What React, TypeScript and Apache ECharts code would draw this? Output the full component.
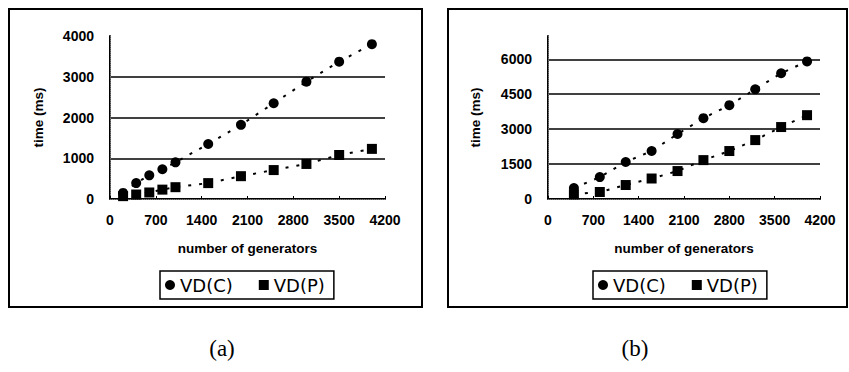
import React, { useEffect, useRef } from "react";
import * as echarts from "echarts";

// ---- data ----
const xTicksLabel = "number of generators";
const yName = "time (ms)";
const seriesNames = ["VD(C)", "VD(P)"];

const leftX = [200, 400, 600, 800, 1000, 1500, 2000, 2500, 3000, 3500, 4000];
const leftC = [150, 390, 580, 730, 900, 1350, 1820, 2350, 2880, 3370, 3800];
const leftP = [70, 110, 160, 230, 290, 390, 560, 710, 860, 1080, 1230];

const rightX = [400, 800, 1200, 1600, 2000, 2400, 2800, 3200, 3600, 4000];
const rightC = [470, 940, 1590, 2060, 2790, 3470, 4030, 4710, 5400, 5910];
const rightP = [200, 300, 600, 880, 1200, 1670, 2060, 2530, 3090, 3600];

const panelLabels = ["(a)", "(b)"];

const FONT = "Liberation Sans";

function zip(xs: number[], ys: number[]) {
  return xs.map((x, i) => [x, ys[i]]);
}

export default function App() {
  const ref = useRef<HTMLDivElement>(null);
  useEffect(() => {
    if (!ref.current) return;
    const chart = echarts.init(ref.current, undefined, { renderer: "svg" });

    const tickLabel = {
      color: "#000",
      fontFamily: FONT,
      fontWeight: "bold" as const,
      fontSize: 14,
      formatter: (v: number) => String(v),
    };
    const nameStyle = {
      color: "#000",
      fontFamily: FONT,
      fontWeight: "bold" as const,
      fontSize: 13.5,
    };

    const bottomX = (grid: number) => ({
      type: "value",
      gridIndex: grid,
      position: "bottom",
      min: 0,
      max: 4200,
      interval: 700,
      axisLine: { show: true, lineStyle: { color: "#000", width: 2 } },
      axisTick: { show: true, inside: true, length: 3, lineStyle: { color: "#000", width: 1 } },
      axisLabel: { ...tickLabel, margin: 14 },
      splitLine: { show: false },
      name: xTicksLabel,
      nameLocation: "middle",
      nameGap: 42,
      nameTextStyle: nameStyle,
    });
    const topX = (grid: number) => ({
      type: "value",
      gridIndex: grid,
      position: "top",
      min: 0,
      max: 4200,
      interval: 700,
      axisLine: { show: true, lineStyle: { color: "#777", width: 1, type: "dotted" } },
      axisTick: { show: false },
      axisLabel: { show: false },
      splitLine: { show: false },
    });
    const leftY = (grid: number, max: number, interval: number, gap: number) => ({
      type: "value",
      gridIndex: grid,
      position: "left",
      min: 0,
      max,
      interval,
      axisLine: { show: true, lineStyle: { color: "#000", width: 2 } },
      axisTick: { show: false },
      axisLabel: { ...tickLabel, margin: 16, showMaxLabel: max % interval === 0 },
      splitLine: { show: true, showMaxLine: false, lineStyle: { color: "#000", width: 1.5 } },
      name: yName,
      nameLocation: "middle",
      nameGap: gap,
      nameRotate: 90,
      nameTextStyle: nameStyle,
    });
    const rightY = (grid: number, max: number, interval: number) => ({
      type: "value",
      gridIndex: grid,
      position: "right",
      min: 0,
      max,
      interval,
      axisLine: { show: true, lineStyle: { color: "#777", width: 1, type: "dotted" } },
      axisTick: { show: false },
      axisLabel: { show: false },
      splitLine: { show: false },
    });

    const mkSeries = (
      name: string,
      data: number[][],
      symbol: string,
      xi: number,
      yi: number
    ) => ({
      type: "line",
      name,
      data,
      xAxisIndex: xi,
      yAxisIndex: yi,
      symbol,
      symbolSize: 10,
      itemStyle: { color: "#000" },
      lineStyle: { color: "#000", width: 2, type: [3, 8] },
      z: 3,
    });

    const legendBase = {
      orient: "horizontal",
      top: 271,
      borderColor: "#000",
      borderWidth: 1.5,
      borderRadius: 0,
      padding: [5, 9, 5, 5],
      itemGap: 26,
      itemWidth: 10,
      itemHeight: 10,
      textStyle: { color: "#000", fontFamily: "DejaVu Sans", fontSize: 18 },
      data: [
        { name: seriesNames[0], icon: "circle" },
        { name: seriesNames[1], icon: "rect" },
      ],
    };

    chart.setOption({
      animation: false,
      backgroundColor: "#fff",
      grid: [
        { left: 110, top: 36, width: 275, height: 163, show: false },
        { left: 548, top: 36, width: 272, height: 163, show: false },
      ],
      xAxis: [bottomX(0), topX(0), bottomX(1), topX(1)],
      yAxis: [
        leftY(0, 4000, 1000, 65),
        rightY(0, 4000, 1000),
        leftY(1, 7000, 1500, 66),
        rightY(1, 7000, 1500),
      ],
      legend: [
        { ...legendBase, left: 160 },
        { ...legendBase, left: 593 },
      ],
      series: [
        mkSeries(seriesNames[0], zip(leftX, leftC), "circle", 0, 0),
        mkSeries(seriesNames[1], zip(leftX, leftP), "rect", 0, 0),
        mkSeries(seriesNames[0], zip(rightX, rightC), "circle", 2, 2),
        mkSeries(seriesNames[1], zip(rightX, rightP), "rect", 2, 2),
      ],
      graphic: [
        {
          type: "rect",
          shape: { x: 9, y: 9, width: 413, height: 298 },
          style: { fill: "none", stroke: "#000", lineWidth: 2 },
          silent: true,
        },
        {
          type: "rect",
          shape: { x: 448, y: 9, width: 399, height: 298 },
          style: { fill: "none", stroke: "#000", lineWidth: 2 },
          silent: true,
        },
        {
          type: "text",
          x: 222,
          y: 348,
          style: {
            text: panelLabels[0],
            font: "23px 'Liberation Serif'",
            fill: "#000",
            textAlign: "center",
            textVerticalAlign: "middle",
          },
        },
        {
          type: "text",
          x: 635,
          y: 348,
          style: {
            text: panelLabels[1],
            font: "23px 'Liberation Serif'",
            fill: "#000",
            textAlign: "center",
            textVerticalAlign: "middle",
          },
        },
      ],
    });
    return () => chart.dispose();
  }, []);

  return (
    <div
      ref={ref}
      style={{ position: "fixed", left: 0, top: 0, width: 849, height: 372, background: "#fff" }}
    />
  );
}
